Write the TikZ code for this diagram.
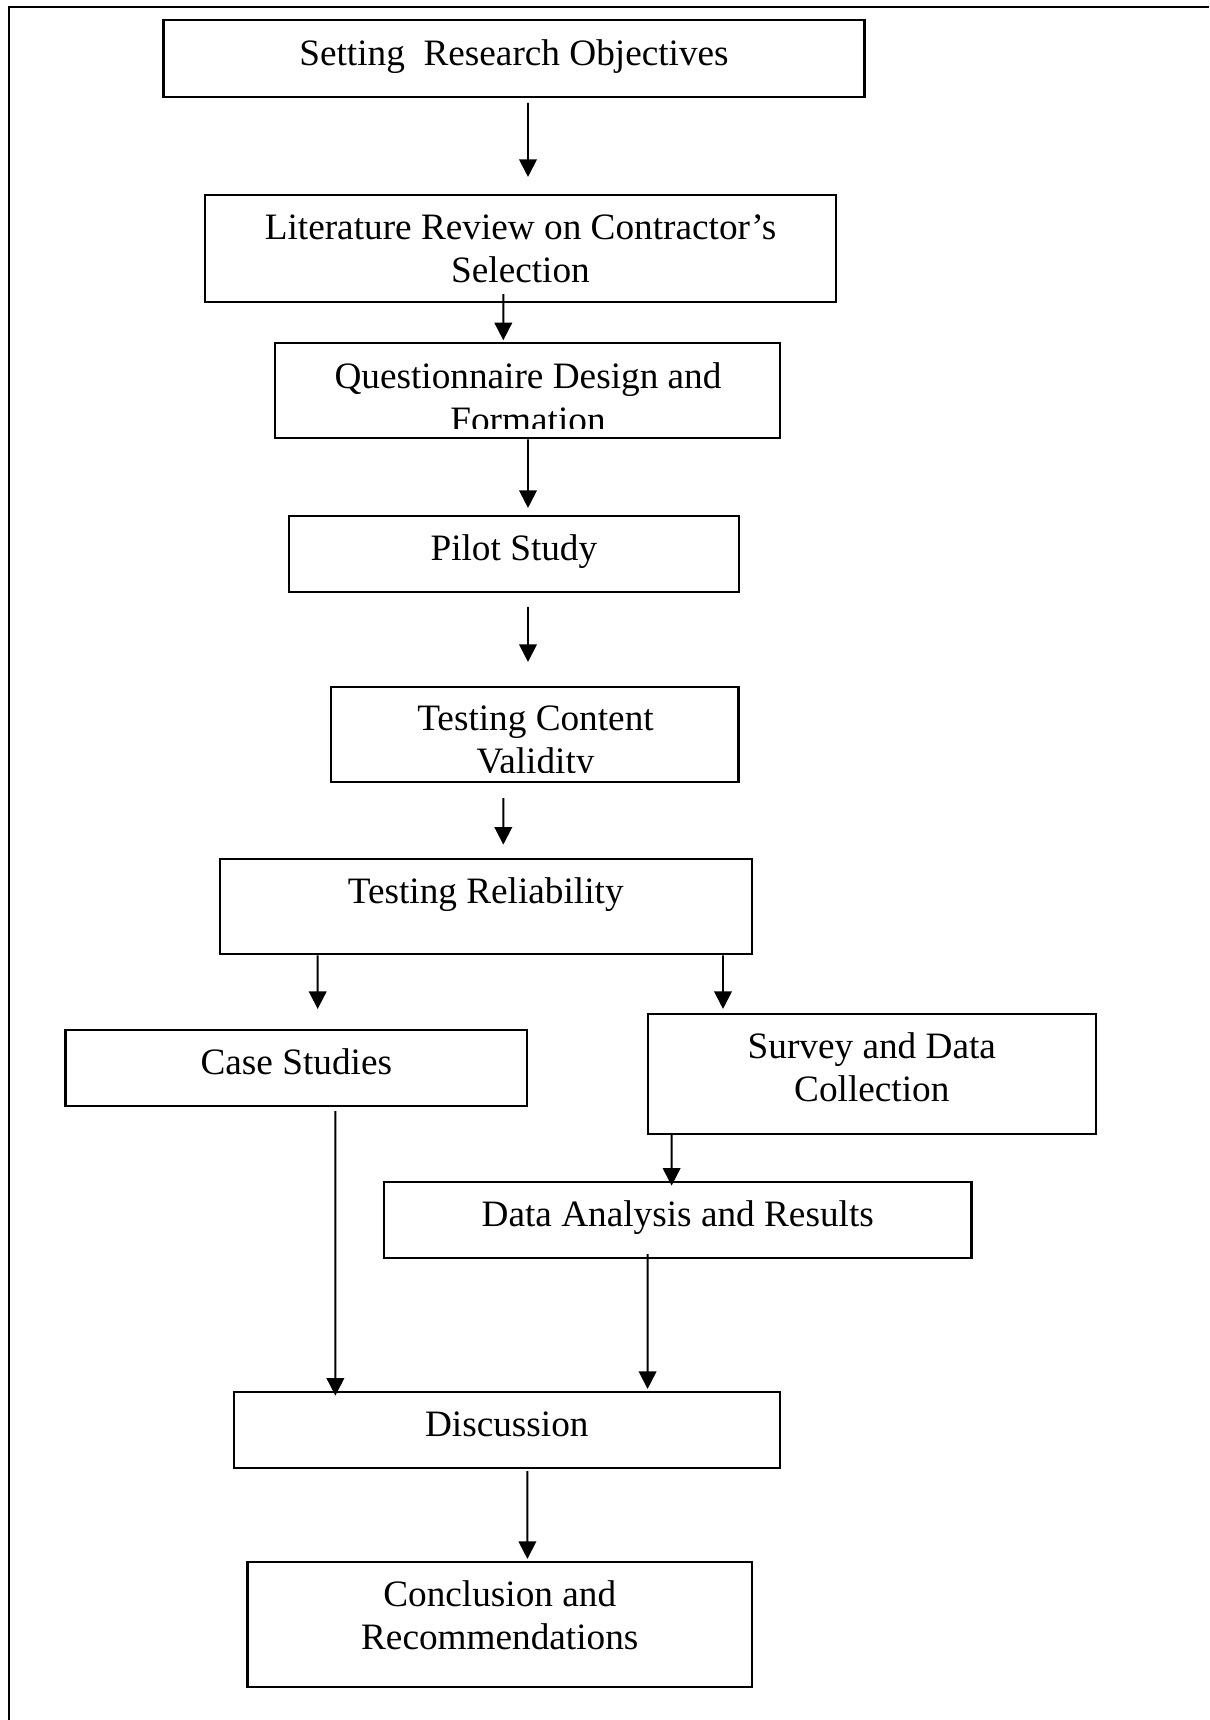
\documentclass[tikz,border=0pt]{standalone}
\usepackage{fontspec}
\setmainfont{Liberation Serif}
\usepackage{tikz}
\usetikzlibrary{arrows.meta}
\tikzset{
  box/.style={draw, line width=0.6pt, align=center, inner sep=0pt, font=\fontsize{10.6}{12.3}\selectfont},
  linebox/.style={box, text height=7.3pt, text depth=3.4pt},
  boxtext/.style={align=center, inner sep=0pt, font=\fontsize{10.6}{12.3}\selectfont},
  flow/.style={-{Triangle[length=5pt,width=5pt]}, line width=0.55pt}
}
\begin{document}
\begin{tikzpicture}
  \useasboundingbox (0,0) rectangle (12.09,-17.20);
  % frame (top and left only)
  \draw[line width=0.6pt] (12.09,-0.067) -- (0.087,-0.067) -- (0.087,-17.20);

  \node[linebox, minimum width=7.01cm, minimum height=0.77cm] (setobj) at (5.14,-0.583) {Setting\ \ Research Objectives};
  \node[box, minimum width=6.31cm, minimum height=1.073cm] (litrev) at (5.205,-2.4865) {Literature Review on Contractor's\\Selection};
  \node[box, minimum width=5.044cm, minimum height=0.95cm] (quest) at (5.276,-3.908) {};
  \begin{scope}
    \clip ([yshift=1.05mm]quest.south west) rectangle (quest.north east);
    \node[boxtext] (questtext) at (5.28,-3.977) {Questionnaire Design and\\Formation};
  \end{scope}
  \node[linebox, minimum width=4.493cm, minimum height=0.76cm] (pilot) at (5.139,-5.537) {Pilot Study};
  \node[box, minimum width=4.072cm, minimum height=0.953cm] (content) at (5.349,-7.3435) {};
  \begin{scope}
    \clip ([yshift=1.1mm]content.south west) rectangle (content.north east);
    \node[boxtext] (contenttext) at (5.355,-7.437) {Testing Content\\Validity};
  \end{scope}
  \node[linebox, text depth=9.1pt, minimum width=5.32cm, minimum height=0.953cm] (reliab) at (4.857,-9.0665) {Testing Reliability};
  \node[linebox, minimum width=4.615cm, minimum height=0.76cm] (case) at (2.963,-10.68) {Case Studies};
  \node[box, text depth=3.8pt, minimum width=4.484cm, minimum height=1.2cm] (survey) at (8.718,-10.74) {Survey and Data\\Collection};
  \node[linebox, minimum width=5.875cm, minimum height=0.76cm] (dataan) at (6.7775,-12.20) {Data Analysis and Results};
  \node[linebox, minimum width=5.464cm, minimum height=0.76cm] (discuss) at (5.068,-14.297) {Discussion};
  \node[box, text depth=5.3pt, minimum width=5.045cm, minimum height=1.25cm] (concl) at (4.9975,-16.242) {Conclusion and\\Recommendations};

  \draw[flow] ([xshift=1.4mm,yshift=-0.5mm]setobj.south) -- ([xshift=0.75mm,yshift=1.7mm]litrev.north);
  \draw[flow] ([xshift=-1.72mm,yshift=0.93mm]litrev.south) -- ([xshift=-2.43mm,yshift=0.2mm]quest.north);
  \draw[flow] ([xshift=0.04mm]quest.south) -- ([xshift=1.41mm,yshift=0.67mm]pilot.north);
  \draw[flow] ([xshift=1.41mm,yshift=-1.4mm]pilot.south) -- ([xshift=-0.69mm,yshift=2.37mm]content.north);
  \draw[flow] ([xshift=-3.16mm,yshift=-1.5mm]content.south) -- ([xshift=1.76mm,yshift=1.33mm]reliab.north);
  \draw[flow] ([xshift=-16.8mm]reliab.south) -- ([xshift=2.14mm,yshift=2mm]case.north);
  \draw[flow] ([xshift=23.73mm]reliab.south) -- ([xshift=-14.88mm,yshift=0.4mm]survey.north);
  \draw[flow] ([xshift=-20.02mm]survey.south) -- ([xshift=-0.615mm,yshift=-0.47mm]dataan.north);
  \draw[flow] ([xshift=3.91mm,yshift=-0.4mm]case.south) -- ([xshift=-17.14mm,yshift=-0.5mm]discuss.north);
  \draw[flow] ([xshift=-3.015mm,yshift=0.5mm]dataan.south) -- ([xshift=14.08mm,yshift=0.17mm]discuss.north);
  \draw[flow] ([xshift=2.06mm,yshift=-0.23mm]discuss.south) -- ([xshift=2.765mm,yshift=0.17mm]concl.north);
\end{tikzpicture}
\end{document}
